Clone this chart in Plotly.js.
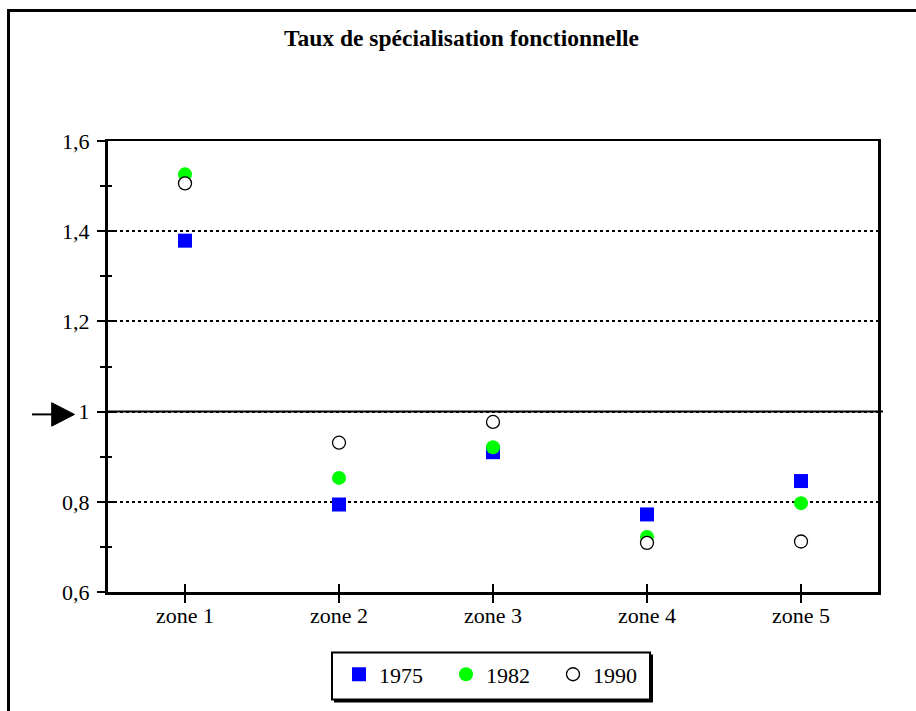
<!DOCTYPE html>
<html><head><meta charset="utf-8">
<script src="https://cdn.plot.ly/plotly-3.0.1.min.js"></script>
<style>
body{margin:0;background:#fff}
#wrap{position:relative;width:916px;height:711px;overflow:hidden}
#frame{position:absolute;left:7px;top:9px;width:1000px;height:1000px;border-left:3px solid #000;border-top:3px solid #000;pointer-events:none}
</style>
</head><body>
<div id="wrap"><div id="chart" style="width:916px;height:711px"></div><div id="frame"></div></div>
<script>
const zones = ['zone 1','zone 2','zone 3','zone 4','zone 5'];
const v1975 = [1.379, 0.794, 0.910, 0.772, 0.846];
const v1982 = [1.526, 0.853, 0.921, 0.722, 0.797];
const v1990 = [1.506, 0.931, 0.977, 0.709, 0.712];
const yTickVals = [0.6, 0.8, 1, 1.2, 1.4, 1.6];
const yTickText = ['0,6', '0,8', '1', '1,2', '1,4', '1,6'];
const seriesNames = ['1975', '1982', '1990'];

const L = 108, R = 878, T = 141, B = 592.5;
const px = p => (p - L) / (R - L);
const py = p => (B - p) / (B - T);
const FONT = 'Liberation Serif, Times New Roman, serif';

const traces = [
  {x: zones, y: v1975, name: seriesNames[0], type: 'scatter', mode: 'markers',
   marker: {symbol: 'square', size: 14, color: '#0000ff', line: {width: 0}}},
  {x: zones, y: v1982, name: seriesNames[1], type: 'scatter', mode: 'markers',
   marker: {symbol: 'circle', size: 14, color: '#00ff00', line: {width: 0}}},
  {x: zones, y: v1990, name: seriesNames[2], type: 'scatter', mode: 'markers',
   marker: {symbol: 'circle', size: 13, color: '#ffffff', line: {width: 1.3, color: '#000'}}},
  {x: zones, y: v1975, xaxis: 'x2', yaxis: 'y2', type: 'scatter', mode: 'markers',
   marker: {opacity: 0}, showlegend: false, hoverinfo: 'skip'}
];

const layout = {
  width: 916, height: 711,
  margin: {l: L, r: 916 - R, t: T, b: 711 - B},
  paper_bgcolor: '#fff', plot_bgcolor: '#fff',
  font: {family: FONT, color: '#000', size: 22},
  showlegend: true,
  title: {text: '<b>Taux de spécialisation fonctionnelle</b>', font: {family: FONT, size: 23.5, color: '#000'},
          xref: 'container', yref: 'container', x: 461.5 / 916, xanchor: 'center', y: 1 - 38 / 711, yanchor: 'middle'},
  xaxis: {type: 'category', range: [-0.5, 4.5], showline: true, linecolor: '#000', linewidth: 2.5, mirror: true,
          ticks: 'outside', ticklen: 8, tickwidth: 2, tickcolor: '#000', showgrid: false, zeroline: false,
          ticklabelstandoff: -6, tickfont: {family: FONT, size: 22}, fixedrange: true},
  yaxis: {range: [0.6, 1.6], tickvals: yTickVals, ticktext: yTickText, showline: true, linecolor: '#000', linewidth: 3, mirror: true,
          ticks: 'outside', ticklen: 8, tickwidth: 2, tickcolor: '#000', ticklabelstandoff: 3,
          minor: {dtick: 0.1, ticks: 'outside', ticklen: 5, tickwidth: 2, tickcolor: '#000', showgrid: false},
          showgrid: true, gridcolor: '#000', gridwidth: 2, griddash: 'dot', zeroline: false,
          tickfont: {family: FONT, size: 22}, fixedrange: true},
  xaxis2: {type: 'category', range: [-0.5, 4.5], overlaying: 'x', anchor: 'y', side: 'bottom', showline: false,
           ticks: 'inside', ticklen: 8, tickwidth: 2, tickcolor: '#000', showticklabels: false, showgrid: false, zeroline: false},
  yaxis2: {range: [0.6, 1.6], tickvals: yTickVals, overlaying: 'y', anchor: 'x', side: 'left', showline: false,
           ticks: 'inside', ticklen: 6, tickwidth: 2, tickcolor: '#000', showticklabels: false, showgrid: false, zeroline: false,
           minor: {dtick: 0.1, ticks: 'inside', ticklen: 4, tickwidth: 2, tickcolor: '#000', showgrid: false}},
  legend: {orientation: 'h', x: px(339), xanchor: 'left', y: py(654), yanchor: 'top', entrywidth: 62,
           borderwidth: 0, bgcolor: 'rgba(0,0,0,0)', font: {family: FONT, size: 22}},
  shapes: [
    {type: 'line', xref: 'paper', yref: 'paper', x0: 0, x1: px(883), y0: py(B - 0.4 * (B - T)), y1: py(B - 0.4 * (B - T)),
     line: {color: '#000', width: 2}},
    {type: 'line', xref: 'paper', yref: 'paper', x0: px(32), x1: px(54), y0: py(414.7), y1: py(414.7),
     line: {color: '#000', width: 2}},
    {type: 'path', xref: 'paper', yref: 'paper',
     path: `M ${px(51.7)},${py(403)} L ${px(74.5)},${py(414.7)} L ${px(51.7)},${py(426.5)} Z`,
     fillcolor: '#000', line: {color: '#000', width: 1}},
    {type: 'rect', xref: 'paper', yref: 'paper', layer: 'above', x0: px(334), x1: px(653), y0: py(655), y1: py(703),
     fillcolor: '#000', line: {width: 0}},
    {type: 'rect', xref: 'paper', yref: 'paper', layer: 'above', x0: px(332), x1: px(650), y0: py(653), y1: py(700),
     fillcolor: '#fff', line: {color: '#000', width: 2}}
  ]
};

Plotly.newPlot('chart', traces, layout, {displayModeBar: false, staticPlot: true});
</script>
</body></html>
